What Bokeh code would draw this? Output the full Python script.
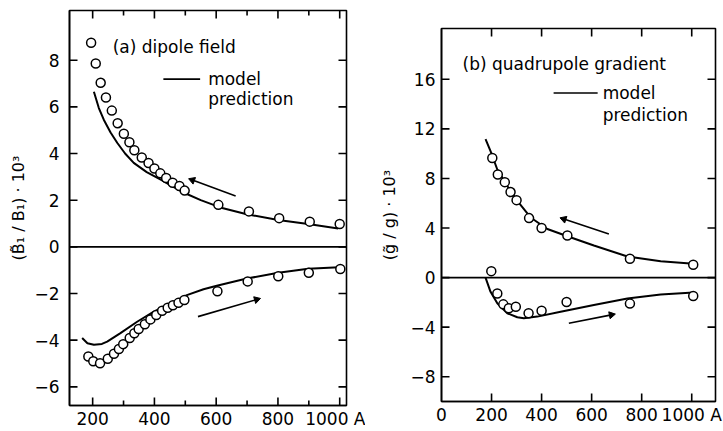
import math
from bokeh.plotting import figure
from bokeh.layouts import row, column
from bokeh.models import Span, Label, Range1d, FixedTicker, Spacer
from bokeh.embed import file_html
from bokeh.resources import INLINE

FONT = "DejaVu Sans"

# ---------------- data, panel (a) dipole field ----------------
a_up_x = [195, 210, 226, 243, 262, 281, 301, 319, 335, 359, 381, 400, 419, 438, 459, 481, 498, 607, 706, 804, 903, 1000]
a_up_y = [8.75, 7.86, 7.03, 6.40, 5.84, 5.30, 4.85, 4.48, 4.14, 3.83, 3.59, 3.36, 3.15, 2.95, 2.75, 2.61, 2.41, 1.80, 1.52, 1.23, 1.08, 0.98]
a_lo_x = [186, 202, 224, 249, 269, 285, 299, 320, 335, 349, 369, 387, 406, 425, 443, 460, 478, 497, 604, 702, 801, 900, 1002]
a_lo_y = [-4.70, -4.90, -4.99, -4.80, -4.58, -4.38, -4.17, -3.91, -3.70, -3.52, -3.32, -3.11, -2.92, -2.74, -2.61, -2.50, -2.40, -2.28, -1.90, -1.48, -1.26, -1.11, -0.95]
a_mu_x = [204, 220, 236, 258, 280, 305, 333, 375, 419, 460, 494, 550, 613, 699, 801, 898, 995]
a_mu_y = [6.65, 5.95, 5.45, 4.90, 4.45, 4.00, 3.60, 3.20, 2.89, 2.58, 2.33, 2.00, 1.69, 1.40, 1.15, 0.98, 0.79]
a_ml_x = [166, 183, 204, 230, 247, 290, 344, 398, 452, 505, 559, 602, 699, 801, 898, 998]
a_ml_y = [-3.91, -4.13, -4.20, -4.16, -4.06, -3.70, -3.21, -2.78, -2.43, -2.07, -1.82, -1.67, -1.36, -1.11, -0.94, -0.87]

# ---------------- data, panel (b) quadrupole gradient ----------------
b_up_x = [203, 225, 253, 276, 300, 350, 400, 503, 753, 1006]
b_up_y = [9.65, 8.32, 7.70, 6.90, 6.25, 4.80, 4.00, 3.39, 1.52, 1.04]
b_lo_x = [199, 223, 247, 269, 297, 348, 400, 500, 753, 1006]
b_lo_y = [0.52, -1.28, -2.16, -2.48, -2.35, -2.88, -2.67, -1.97, -2.10, -1.49]
b_mu_x = [176, 196, 223, 263, 303, 356, 423, 503, 609, 743, 876, 1007]
b_mu_y = [11.17, 10.2, 8.72, 7.39, 6.19, 4.85, 3.92, 3.33, 2.59, 1.70, 1.31, 1.12]
b_ml_x = [176, 196, 223, 263, 303, 329, 383, 476, 609, 743, 876, 1007]
b_ml_y = [0.0, -1.15, -2.08, -2.88, -3.20, -3.28, -3.15, -2.75, -2.21, -1.68, -1.36, -1.20]

# ---------------- ticks ----------------
a_xmajor = [200, 400, 600, 800, 1000]
a_xminor = [300, 500, 700, 900]
a_yticks = [-6, -4, -2, 0, 2, 4, 6, 8]
b_xmajor = [0, 200, 400, 600, 800, 1000]
b_yticks = [-8, -4, 0, 4, 8, 12, 16]
x_overrides = {1000: "1000 A"}


def style_axis(ax):
    ax.axis_line_color = "black"
    ax.axis_line_width = 1.6
    ax.major_tick_in = 0
    ax.major_tick_out = 0
    ax.minor_tick_in = 0
    ax.minor_tick_out = 0
    ax.major_label_text_font = FONT
    ax.major_label_text_font_size = "17px"
    ax.major_label_text_color = "black"
    ax.axis_label_text_font = FONT
    ax.axis_label_text_font_style = "normal"
    ax.axis_label_text_color = "black"
    ax.axis_label_text_font_size = "16px"


def make_fig(width, height, xr, yr, mb, xmaj, xmin, yt, ylabel):
    p = figure(width=width, height=height, x_range=Range1d(*xr), y_range=Range1d(*yr),
               output_backend="svg", toolbar_location=None,
               min_border_left=mb[0], min_border_right=mb[1],
               min_border_top=mb[2], min_border_bottom=mb[3])
    p.title.visible = False
    p.title.text_font_size = "1px"
    p.title.standoff = 0
    p.grid.visible = False
    p.outline_line_color = "black"
    p.outline_line_width = 1.6
    p.background_fill_color = "white"
    p.border_fill_color = "white"
    p.xaxis.ticker = FixedTicker(ticks=xmaj, minor_ticks=xmin)
    p.yaxis.ticker = FixedTicker(ticks=yt)
    style_axis(p.xaxis[0])
    style_axis(p.yaxis[0])
    p.xaxis[0].major_label_overrides = x_overrides
    p.xaxis[0].major_label_standoff = 3
    p.yaxis[0].axis_label = ylabel
    p.yaxis[0].axis_label_standoff = 3
    p.add_layout(Span(location=0, dimension="width", line_color="black", line_width=1.6))
    return p


def frame_ticks(p, xr, yr, xmaj, xmin, yt, fw, fh):
    # inward ticks on all four sides of the frame (8 px major, 5 px minor)
    ux = (xr[1] - xr[0]) / fw
    uy = (yr[1] - yr[0]) / fh
    x0, y0, x1, y1 = [], [], [], []
    for t, n in [(t, 8) for t in xmaj] + [(t, 5) for t in xmin]:
        if xr[0] < t < xr[1]:
            x0 += [t, t]
            x1 += [t, t]
            y0 += [yr[0], yr[1]]
            y1 += [yr[0] + n * uy, yr[1] - n * uy]
    for t in yt:
        if yr[0] < t < yr[1]:
            y0 += [t, t]
            y1 += [t, t]
            x0 += [xr[0], xr[1]]
            x1 += [xr[0] + 8 * ux, xr[1] - 8 * ux]
    p.segment(x0, y0, x1, y1, line_color="black", line_width=1.6)


def draw(p, ux, uy, lx, ly, mux, muy, mlx, mly):
    p.line(mux, muy, line_color="black", line_width=2)
    p.line(mlx, mly, line_color="black", line_width=2)
    p.scatter(ux, uy, marker="circle", size=9, fill_color="white", line_color="black", line_width=1.5)
    p.scatter(lx, ly, marker="circle", size=9, fill_color="white", line_color="black", line_width=1.5)


def txt(p, x, y, s, size="17px"):
    p.add_layout(Label(x=x, y=y, text=s, text_font=FONT, text_font_size=size,
                       text_baseline="middle", text_color="black"))


def arrows(p, x0, y0, x1, y1, heads, sx, sy):
    p.segment(x0, y0, x1, y1, line_color="black", line_width=1.6)
    hx, hy, ang = [], [], []
    for a, b, c, d, h in zip(x0, y0, x1, y1, heads):
        if h:
            theta = math.atan2((d - b) * sy, (c - a) * sx)
            hx.append(c)
            hy.append(d)
            ang.append(theta - math.pi / 2)
    if hx:
        p.scatter(hx, hy, marker="triangle", size=7, angle=ang,
                  fill_color="black", line_color="black", line_width=1)


# panel (a): canvas 365 x 431, frame 277 x 398
a_xr, a_yr = (125, 1022), (-6.8, 10.13)
pa = make_fig(365, 431, a_xr, a_yr, (69, 19, 10, 23),
              a_xmajor, a_xminor, a_yticks, "(B\u0303\u2081 / B\u2081) \u00b7 10\u00b3")
pa.yaxis[0].major_label_standoff = 10
frame_ticks(pa, a_xr, a_yr, a_xmajor, a_xminor, a_yticks, 277, 398)
draw(pa, a_up_x, a_up_y, a_lo_x, a_lo_y, a_mu_x, a_mu_y, a_ml_x, a_ml_y)
txt(pa, 265, 8.57, "(a) dipole field")
txt(pa, 574, 7.19, "model")
txt(pa, 574, 6.34, "prediction")
arrows(pa, [429, 663, 541], [7.19, 2.18, -2.99], [548, 523, 731], [7.19, 2.86, -2.26],
       [False, True, True], 277 / 897, 398 / 16.93)

# panel (b): canvas 358 x 409 (below an 18 px spacer), frame 274 x 376
b_xr, b_yr = (0, 1095), (-10, 20.1)
pb = make_fig(358, 409, b_xr, b_yr, (76, 8, 10, 23),
              b_xmajor, [], b_yticks, "(g\u0303 / g) \u00b7 10\u00b3")
pb.yaxis[0].major_label_standoff = 6
pb.yaxis[0].axis_label_standoff = 8
frame_ticks(pb, b_xr, b_yr, b_xmajor, [], b_yticks, 274, 376)
draw(pb, b_up_x, b_up_y, b_lo_x, b_lo_y, b_mu_x, b_mu_y, b_ml_x, b_ml_y)
txt(pb, 84, 17.26, "(b) quadrupole gradient")
txt(pb, 644, 14.9, "model")
txt(pb, 644, 13.1, "prediction")
arrows(pb, [448, 669, 509], [14.9, 3.52, -3.68], [624, 489, 679], [14.9, 4.72, -3.01],
       [False, True, True], 274 / 1095, 376 / 30.1)

right_col = column(Spacer(width=358, height=18), pb, width=358, height=427)
layout = row(pa, right_col, width=723, height=431, sizing_mode="fixed")
open("out.html", "w").write(file_html(layout, INLINE))
